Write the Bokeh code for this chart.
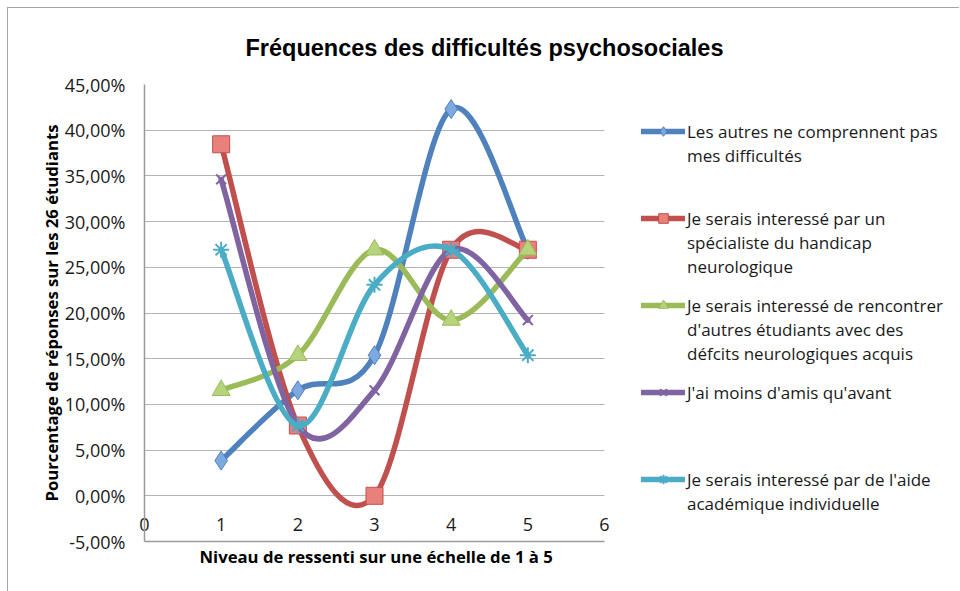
from bokeh.plotting import figure
from bokeh.models import (Range1d, FixedTicker, CustomJSTickFormatter, Legend, LegendItem,
                          ColumnDataSource, BoxAnnotation, Title)
from bokeh.embed import file_html
from bokeh.resources import INLINE

# ---- data (percent of the 26 students) ----
levels = [1, 2, 3, 4, 5]
s_autres = [3.85, 11.54, 15.38, 42.31, 26.92]
s_specialiste = [38.46, 7.69, 0.00, 26.92, 26.92]
s_rencontrer = [11.54, 15.38, 26.92, 19.23, 26.92]
s_amis = [34.62, 7.69, 11.54, 26.92, 19.23]
s_aide = [26.92, 7.69, 23.08, 26.92, 15.38]

series_labels = [
    "Les autres ne comprennent pas\nmes difficultés",
    "Je serais interessé par un\nspécialiste du handicap\nneurologique",
    "Je serais interessé de rencontrer\nd'autres étudiants avec des\ndéfcits neurologiques acquis",
    "J'ai moins d'amis qu'avant",
    "Je serais interessé par de l'aide\nacadémique individuelle",
]
x_ticks = [0, 1, 2, 3, 4, 5, 6]
y_ticks = [-5, 0, 5, 10, 15, 20, 25, 30, 35, 40, 45]

title_text = "Fréquences des difficultés psychosociales"
x_title = "Niveau de ressenti sur une échelle de 1 à 5"
y_title = "Pourcentage de réponses sur les 26 étudiants"

line_colors = ["#4F81BD", "#C0504D", "#9BBB59", "#8064A2", "#4BACC6"]
fill_colors = ["#7EA9E0", "#E8807C", "#B6D47C", "#8064A2", "#4BACC6"]
markers = ["diamond", "square", "triangle", "x", "asterisk"]
marker_sizes = [19, 17, 18, 14, 16]
all_series = [s_autres, s_specialiste, s_rencontrer, s_amis, s_aide]

TEXT_FONT = "Open Sans"
TOTAL_W, TOTAL_H = 951, 583
LEFT, TOP = 136, 76
PLOT_W, FRAME_H = 460, 457          # px used by the x range 0..6
FRAME_W = TOTAL_W - LEFT           # frame also hosts the legend on the right
X_MIN, X_MAX = x_ticks[0], x_ticks[-1]
X_END = X_MIN + (X_MAX - X_MIN) * FRAME_W / PLOT_W


def bezier_cols(xs, ys):
    """Smoothed-line segments (Catmull-Rom style control points) from the data."""
    n = len(xs)
    d = dict(x0=[], y0=[], x1=[], y1=[], cx0=[], cy0=[], cx1=[], cy1=[])
    for i in range(n - 1):
        a = max(i - 1, 0)
        b = min(i + 2, n - 1)
        d["x0"].append(xs[i]); d["y0"].append(ys[i])
        d["x1"].append(xs[i + 1]); d["y1"].append(ys[i + 1])
        d["cx0"].append(xs[i] + (xs[i + 1] - xs[a]) / 6)
        d["cy0"].append(ys[i] + (ys[i + 1] - ys[a]) / 6)
        d["cx1"].append(xs[i + 1] - (xs[b] - xs[i]) / 6)
        d["cy1"].append(ys[i + 1] - (ys[b] - ys[i]) / 6)
    return d


p = figure(
    frame_width=FRAME_W, frame_height=FRAME_H,
    min_border_left=LEFT, min_border_top=TOP,
    min_border_bottom=TOTAL_H - TOP - FRAME_H, min_border_right=0,
    x_range=Range1d(X_MIN, X_END), y_range=Range1d(y_ticks[0], y_ticks[-1]),
    output_backend="svg", toolbar_location=None,
    title=title_text,
)
p.styles = {"margin-left": "7px", "margin-top": "7px",
            "border-left": "1px solid #a6a6a6", "border-top": "1px solid #a6a6a6"}

p.title.text_font = "Liberation Sans"
p.title.text_font_size = "23.5px"
p.title.text_font_style = "bold"
p.title.text_color = "#000000"
p.title.align = "left"
p.title.offset = 101
p.title.standoff = 47

p.outline_line_color = None
p.background_fill_color = "white"
p.border_fill_color = "white"

# y axis
p.yaxis.ticker = FixedTicker(ticks=y_ticks)
p.yaxis.formatter = CustomJSTickFormatter(code="return tick.toFixed(2).replace('.', ',') + '%';")
p.yaxis.axis_label = y_title
p.yaxis.axis_label_text_font = TEXT_FONT
p.yaxis.axis_label_text_font_size = "16.7px"
p.yaxis.axis_label_text_font_style = "bold"
p.yaxis.axis_label_text_color = "#000000"
p.yaxis.axis_label_standoff = -1
p.yaxis.major_label_text_font = TEXT_FONT
p.yaxis.major_label_text_font_size = "18px"
p.yaxis.major_label_text_color = "#1a1a1a"
p.yaxis.major_label_standoff = 13
p.yaxis.axis_line_color = "#9a9a9a"
p.yaxis.axis_line_width = 1.5
p.yaxis.major_tick_line_color = None
p.yaxis.minor_tick_line_color = None

# x axis (only 0..6 is the real axis)
p.xaxis.ticker = FixedTicker(ticks=x_ticks)
p.xaxis.bounds = (X_MIN, X_MAX)
p.xaxis.major_label_text_font = TEXT_FONT
p.xaxis.major_label_text_font_size = "18px"
p.xaxis.major_label_text_color = "#1a1a1a"
p.xaxis.major_label_standoff = -30
p.xaxis.axis_line_color = "#9a9a9a"
p.xaxis.axis_line_width = 1.5
p.xaxis.major_tick_line_color = None
p.xaxis.minor_tick_line_color = None

# x axis title, placed under the 0..6 part of the frame
x_title_obj = Title(text=x_title, align="left", offset=55, standoff=3,
                    text_font=TEXT_FONT, text_font_size="16.7px", text_font_style="bold",
                    text_color="#000000")
p.add_layout(x_title_obj, "below")

p.xgrid.grid_line_color = None
p.ygrid.ticker = FixedTicker(ticks=y_ticks)
p.ygrid.grid_line_color = "#b3b3b3"
p.ygrid.grid_line_width = 1.2

# white mask so that gridlines stop at the end of the x axis (legend area)
p.add_layout(BoxAnnotation(left=X_MAX, fill_color="white", fill_alpha=1.0,
                           line_color=None, level="underlay"))

blank = p.scatter(x=[], y=[], fill_alpha=0, line_alpha=0)

LINE_H = 24
GROUP_TOP = 35      # first legend line top, px below frame top
GROUP_PITCH = 87    # distance between legend entries
LEG_X = 497         # px right of frame left

for i, (ys, lab, lc, fc, mk, ms) in enumerate(zip(all_series, series_labels, line_colors,
                                                  fill_colors, markers, marker_sizes)):
    src = ColumnDataSource(bezier_cols(levels, ys))
    r_line = p.bezier(x0="x0", y0="y0", x1="x1", y1="y1", cx0="cx0", cy0="cy0",
                      cx1="cx1", cy1="cy1", source=src, line_color=lc, line_width=5.5,
                      line_cap="round")
    if mk in ("x", "asterisk"):
        r_pts = p.scatter(levels, ys, marker=mk, size=ms, line_color=lc, line_width=2)
    else:
        r_pts = p.scatter(levels, ys, marker=mk, size=ms, fill_color=fc, line_color=lc,
                          line_width=1)
    lines = lab.split("\n")
    items = [LegendItem(label=lines[0], renderers=[r_line, r_pts])]
    for extra in lines[1:]:
        items.append(LegendItem(label=extra, renderers=[blank]))
    n = len(lines)
    loc_y = FRAME_H - (GROUP_TOP + GROUP_PITCH * i) - n * LINE_H
    leg = Legend(items=items, location=(LEG_X, loc_y), orientation="vertical")
    leg.label_text_font = TEXT_FONT
    leg.label_text_font_size = "17px"
    leg.label_text_color = "#1a1a1a"
    leg.label_standoff = 2
    leg.label_height = LINE_H
    leg.glyph_width = 44
    leg.glyph_height = LINE_H
    leg.spacing = 0
    leg.padding = 0
    leg.margin = 0
    leg.border_line_color = None
    leg.background_fill_alpha = 0
    p.add_layout(leg, "center")

open("out.html", "w").write(file_html(p, INLINE))
